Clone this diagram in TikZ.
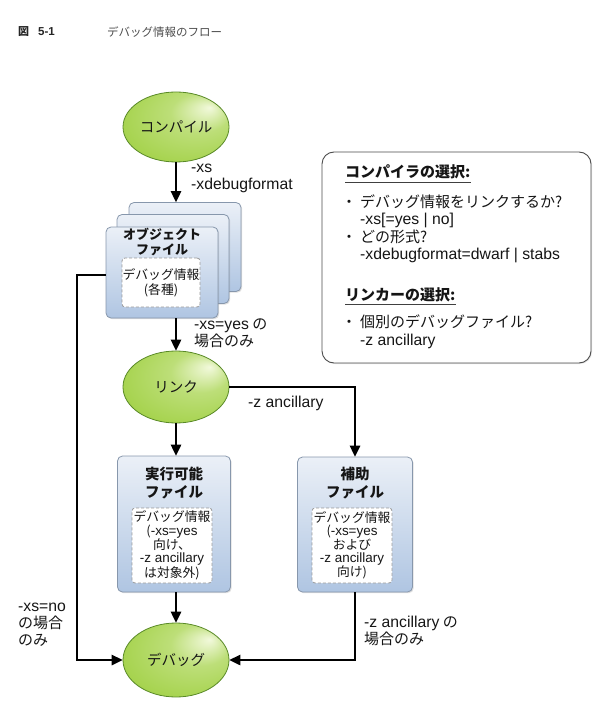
\documentclass[tikz,border=0pt]{standalone}
\usepackage{fontspec}
\setmainfont{Noto Sans CJK JP}
\newfontfamily\lat{Liberation Sans}[Scale=1.05]
\newcommand\ltn[1]{{\lat #1}}
\usetikzlibrary{arrows.meta,shapes.geometric,shadows}
\definecolor{gHi}{HTML}{F2F9DC}
\definecolor{gMid}{HTML}{A6D34E}
\definecolor{gDark}{HTML}{7DB536}
\definecolor{gLine}{HTML}{5A8A28}
\definecolor{bTop}{HTML}{EBF0F7}
\definecolor{bBot}{HTML}{AFC5E2}
\definecolor{bLine}{HTML}{8797AC}
\definecolor{txt}{HTML}{151515}
\pgfdeclareradialshading{greenglow}{\pgfpoint{16bp}{14bp}}{color(0bp)=(gHi); color(14bp)=(gMid!70!gHi); color(32bp)=(gMid); color(50bp)=(gDark)}
\tikzset{
  ell/.style={ellipse, draw=gLine, line width=0.8pt, shading=greenglow, minimum width=106pt, minimum height=70pt, inner sep=0pt, font=\fontsize{14.5}{16}\selectfont, text=txt},
  filebox/.style={rectangle, rounded corners=5pt, draw=bLine, line width=0.8pt, top color=bTop, bottom color=bBot, inner sep=0pt, drop shadow={opacity=0.25, shadow xshift=1.2pt, shadow yshift=-1.2pt}},
  ibox/.style={rectangle, rounded corners=3pt, draw=gray!80, dash pattern=on 3pt off 2pt, fill=white, line width=0.8pt, align=center, inner sep=0pt, font=\fontsize{12.8}{13.3}\selectfont, text=txt},
  ttl/.style={align=center, inner sep=0pt, font=\bfseries\fontsize{14.5}{18}\selectfont, text=txt},
  arr/.style={-{Triangle[width=10.5pt,length=11pt]}, line width=1.4pt, draw=black},
  lbl/.style={anchor=west, align=left, inner sep=0pt, font=\fontsize{15}{17}\selectfont, text=txt},
  itxt/.style={anchor=base west, inner sep=0pt, font=\fontsize{15}{17}\selectfont, text=txt},
  bul/.style={anchor=base, inner sep=0pt, font=\fontsize{15}{17}\selectfont, text=txt},
  ihead/.style={anchor=base west, inner sep=0pt, font=\bfseries\fontsize{15}{17}\selectfont, text=txt},
  uline/.style={line width=1.3pt, draw=black!75},
}
\begin{document}
\begin{tikzpicture}[x=1pt,y=-1pt]
\useasboundingbox (0,0) rectangle (596,714);
% title
\node[anchor=west, inner sep=0pt, font=\bfseries\fontsize{11}{13}\selectfont, text=black!85] (fig) at (18,32) {図\hspace{9pt}\ltn{5-1}};
\node[anchor=west, inner sep=0pt, font=\fontsize{11.5}{13}\selectfont, text=black!70] (ftitle) at (107,32) {デバッグ情報のフロー};

% compile
\node[ell] (comp) at (176,127) {コンパイル};

% object file stack
\node[filebox, minimum width=112pt, minimum height=89pt] (ob3) at (185,247) {};
\node[filebox, minimum width=112pt, minimum height=89pt] (ob2) at (173,259) {};
\node[filebox, minimum width=112pt, minimum height=91pt] (obj) at (162,272.5) {};
\node[ttl, font=\bfseries\fontsize{13}{15}\selectfont] (objt) at (162,242) {オブジェクト\\ファイル};
\node[ibox, minimum width=78pt, minimum height=49pt, font=\fontsize{12.8}{15}\selectfont] (obji) at (161,282.5) {デバッグ情報\\(各種)};

% link
\node[ell, minimum height=72pt] (link) at (176,387) {リンク};

% executable
\node[filebox, minimum width=113pt, minimum height=136pt] (exe) at (174,524) {};
\node[ttl] (exet) at (174,483) {実行可能\\ファイル};
\node[ibox, minimum width=80pt, minimum height=75pt] (exei) at (172,545.5) {デバッグ情報\\(\ltn{-xs=yes}\\向け、\\\ltn{-z ancillary}\\は対象外)};

% ancillary
\node[filebox, minimum width=115pt, minimum height=135pt] (aux) at (355,524.5) {};
\node[ttl] (auxt) at (355,483) {補助\\ファイル};
\node[ibox, minimum width=80pt, minimum height=75pt] (auxi) at (352,545.5) {デバッグ情報\\(\ltn{-xs=yes}\\および\\\ltn{-z ancillary}\\向け)};

% debug
\node[ell, minimum height=74pt] (dbg) at (176,660) {デバッグ};

% connectors
\draw[arr] (comp.south) -- (ob3.north -| comp.south);
\draw[arr] (obj.south -| link.north) -- (link.north);
\draw[arr] (link.south) -- (exe.north -| link.south);
\coordinate (lr) at (aux.north |- link.east);
\draw[arr] (link.east) -- (lr) -- (aux.north);
\draw[arr] (exe.south -| dbg.north) -- (dbg.north);
\coordinate (la) at (77,275);
\coordinate (lb) at (77,660);
\draw[arr] (obj.west |- la) -- (la) -- (lb) -- (dbg.west);
\coordinate (rb) at (aux.south |- dbg.east);
\draw[arr] (aux.south) -- (rb) -- (dbg.east);

% labels
\node[lbl] (l1) at (191,178) {\ltn{-xs}\\\ltn{-xdebugformat}};
\node[lbl] (l2) at (194,333) {\ltn{-xs=yes} の\\場合のみ};
\node[lbl] (l3) at (248,403) {\ltn{-z ancillary}};
\node[lbl] (l4) at (18,625) {\ltn{-xs=no}\\の場合\\のみ};
\node[lbl] (l5) at (364,631) {\ltn{-z ancillary} の\\場合のみ};

% info box
\node[draw=black!70, line width=0.9pt, rounded corners=12pt, fill=white, minimum width=269pt, minimum height=211pt, inner sep=0pt, drop shadow={opacity=0.2, shadow xshift=1pt, shadow yshift=-1pt}] (info) at (456.5,257.5) {};
\node[ihead] (h1) at (345,178) {コンパイラの選択:};
\draw[uline] ([yshift=-3pt]h1.south west) -- ([yshift=-3pt]h1.south east);
\node[bul] (b1) at (349,207.5) {・};
\node[itxt] (t1) at (360,207.5) {デバッグ情報をリンクするか?};
\node[itxt] (t2) at (360,224.5) {\ltn{-xs[=yes | no]}};
\node[bul] (b2) at (349,242.5) {・};
\node[itxt] (t3) at (360,242.5) {どの形式?};
\node[itxt] (t4) at (360,259.5) {\ltn{-xdebugformat=dwarf | stabs}};
\node[ihead] (h2) at (345,300) {リンカーの選択:};
\draw[uline] ([yshift=-3pt]h2.south west) -- ([yshift=-3pt]h2.south east);
\node[bul] (b3) at (349,327.5) {・};
\node[itxt] (t5) at (360,327.5) {個別のデバッグファイル?};
\node[itxt] (t6) at (360,345.5) {\ltn{-z ancillary}};
\end{tikzpicture}
\end{document}
